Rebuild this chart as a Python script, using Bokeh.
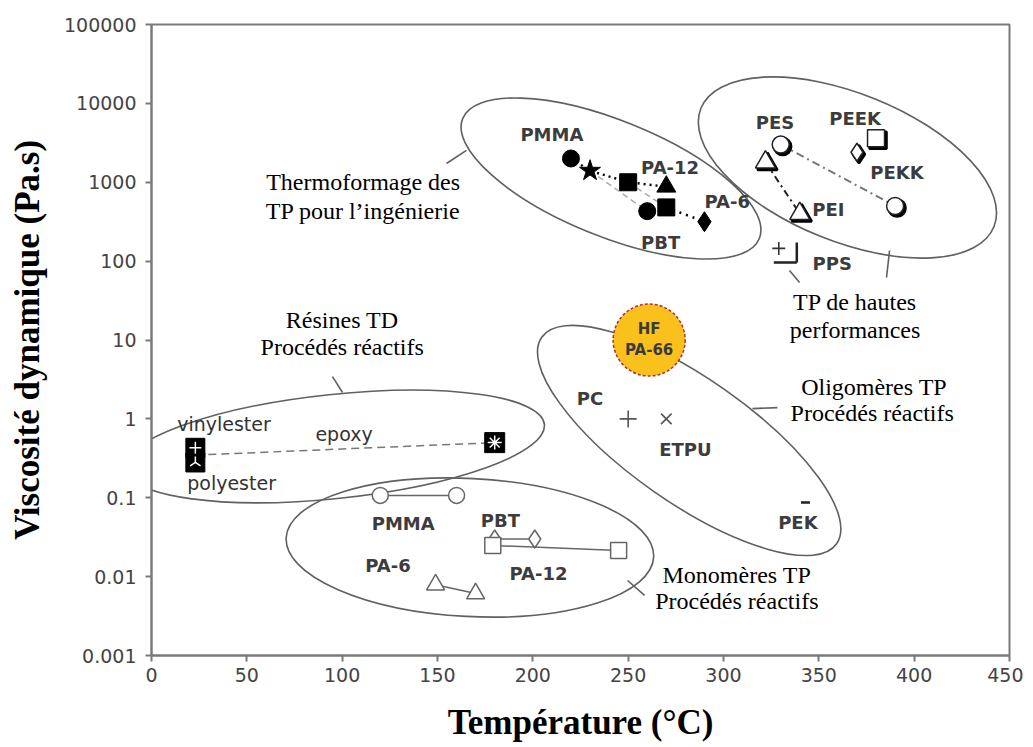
import math
from bokeh.plotting import figure
from bokeh.models import FixedTicker, Range1d
from bokeh.embed import file_html
from bokeh.resources import INLINE
from bokeh.core.properties import value

# ---------------- data ----------------
x_ticks = [0, 50, 100, 150, 200, 250, 300, 350, 400, 450]
y_ticks = [0.001, 0.01, 0.1, 1, 10, 100, 1000, 10000, 100000]
y_tick_labels = ["0.001", "0.01", "0.1", "1", "10", "100", "1000", "10000", "100000"]

# Thermoformage des TP pour l'ingénierie (filled markers)
tf_T = [220, 230, 250, 270, 260, 270, 290]
tf_V = [2000, 1400, 1000, 880, 430, 480, 316]
tf_markers = ["circle", "star", "square", "triangle", "circle", "square", "diamond"]

# TP de hautes performances (open markers)
hp_T = [330, 322, 340, 370, 380, 390]
hp_V = [3000, 1800, 400, 2400, 3600, 500]
hp_markers = ["circle", "triangle", "triangle", "diamond", "square", "circle"]
pps_T = [329]
pps_V = [145]

# Résines TD
vinylester_T, vinylester_V = [23], [0.43]
polyester_T, polyester_V = [23], [0.28]
epoxy_T, epoxy_V = [180], [0.5]

# Monomères TP
mono_pmma_T, mono_pmma_V = [120, 160], [0.107, 0.107]
mono_pbt_T, mono_pbt_V = [180, 201], [0.030, 0.030]
mono_pa12_T, mono_pa12_V = [179, 245], [0.0248, 0.0214]
mono_pa6_T, mono_pa6_V = [149, 170], [0.0079, 0.0061]

# Oligomères TP
pc_T, pc_V = [250], [1.0]
etpu_T, etpu_V = [270], [1.0]
pek_T, pek_V = [343], [0.087]

# HF PA-66
hf_T, hf_V = [261], [10]

# point labels (upper case)
lab_text = ["PMMA", "PA-12", "PA-6", "PBT", "PES", "PEEK", "PEKK", "PEI", "PPS",
            "PMMA", "PBT", "PA-12", "PA-6", "PC", "ETPU", "PEK"]
lab_T = [210, 272, 302, 267, 327, 369, 391, 355, 357,
         132, 183, 203, 124, 230, 280, 339]
lab_V = [4000, 1540, 570, 172, 5700, 6400, 1330, 450, 93,
         0.047, 0.0515, 0.011, 0.0138, 1.8, 0.41, 0.048]
# point labels (lower case)
low_text = ["vinylester", "epoxy", "polyester"]
low_T = [38, 101, 42]
low_V = [0.87, 0.65, 0.156]

# group annotations
ann_text = ["Thermoformage des", "TP pour l\u2019ing\u00e9nierie",
            "R\u00e9sines TD", "Proc\u00e9d\u00e9s r\u00e9actifs",
            "TP de hautes", "performances",
            "Oligom\u00e8res TP", "Proc\u00e9d\u00e9s r\u00e9actifs",
            "Monom\u00e8res TP", "Proc\u00e9d\u00e9s r\u00e9actifs"]
ann_T = [111, 111, 100, 100, 369, 369, 379, 378, 307, 307]
ann_V = [1022, 438, 17.7, 8.26, 30.0, 13.2, 2.57, 1.17, 0.0106, 0.00484]

# group ellipses: centre (T, V), screen width/height, angle (deg)
ell_T = [241, 365, 96, 167, 282]
ell_V = [1115, 1538, 0.447, 0.0234, 0.532]
ell_w = [320, 316, 422, 368, 360]
ell_h = [116, 148, 104, 138, 124]
ell_a = [-22, -22, 6, -3, -35]

# leader lines
lead_T0 = [154.7, 94.9, 334.6, 387.1, 315.2, 249.7]
lead_V0 = [1730, 3.44, 76, 136.5, 1.35, 0.00893]
lead_T1 = [165.2, 100.2, 339.9, 385.5, 328.3, 258.6]
lead_V1 = [2530, 2.16, 53.6, 62, 1.39, 0.00577]

# ---------------- helpers (screen-pixel offsets expressed in data space) ----------------
FW, FH = 858, 631
T_PER_PX = 450 / FW
DEC_PER_PX = 8 / FH


def shift(T, V, dx, dy):
    """shift points by dx px right and dy px down"""
    return [t + dx * T_PER_PX for t in T], [v * 10 ** (-dy * DEC_PER_PX) for v in V]


# ---------------- figure ----------------
p = figure(width=1023, height=735, frame_width=FW, frame_height=FH,
           y_axis_type="log", x_range=Range1d(0, 450), y_range=Range1d(0.001, 100000),
           output_backend="svg", toolbar_location=None,
           min_border_left=151, min_border_right=14, min_border_top=24, min_border_bottom=80)
p.grid.visible = False
p.outline_line_color = "#7a7a7a"
p.outline_line_width = 2
p.background_fill_color = "white"
p.border_fill_color = "white"

p.xaxis.ticker = FixedTicker(ticks=x_ticks)
p.yaxis.ticker = FixedTicker(ticks=y_ticks)
p.yaxis.major_label_overrides = {t: l for t, l in zip(y_ticks, y_tick_labels)}
for ax in (p.xaxis, p.yaxis):
    ax.axis_line_color = "#7a7a7a"
    ax.axis_line_width = 2
    ax.major_tick_line_color = "#7a7a7a"
    ax.major_tick_line_width = 2
    ax.major_tick_out = 6
    ax.major_tick_in = 0
    ax.minor_tick_line_color = None
    ax.major_label_text_font = "DejaVu Sans"
    ax.major_label_text_font_size = "19px"
    ax.major_label_text_color = "#444444"
    ax.axis_label_text_font = "Liberation Serif"
    ax.axis_label_text_font_style = "bold"
    ax.axis_label_text_font_size = "35px"
    ax.axis_label_text_color = "black"
p.xaxis.major_label_standoff = 6
p.yaxis.major_label_standoff = 9
p.xaxis.axis_label = "Temp\u00e9rature (\u00b0C)"
p.yaxis.axis_label = "Viscosit\u00e9 dynamique (Pa.s)"
p.xaxis.axis_label_standoff = 18
p.yaxis.axis_label_standoff = 14

# ellipses
p.ellipse(x=ell_T, y=ell_V, width=ell_w, height=ell_h, width_units="screen",
          height_units="screen", angle=[math.radians(a) for a in ell_a],
          fill_color=None, line_color="#606060", line_width=1.6)
p.segment(x0=lead_T0, y0=lead_V0, x1=lead_T1, y1=lead_V1, line_color="#606060", line_width=1.6)

# thermoformage lines
idx = [0, 1, 2, 3]
p.line([tf_T[i] for i in idx], [tf_V[i] for i in idx], line_color="black", line_width=2.5, line_dash="2 4")
p.line([tf_T[1], tf_T[4]], [tf_V[1], tf_V[4]], line_color="#aaaaaa", line_width=1.5, line_dash="6 4")
p.line([tf_T[2], tf_T[5]], [tf_V[2], tf_V[5]], line_color="#aaaaaa", line_width=1.5, line_dash="6 4")
p.line([tf_T[5], tf_T[6]], [tf_V[5], tf_V[6]], line_color="black", line_width=2.5, line_dash="2 5")
tf_sizes = {"circle": 17, "star": 22, "square": 17, "triangle": 19, "diamond": 20}
for t, v, m in zip(tf_T, tf_V, tf_markers):
    p.scatter([t], [v], marker=m, size=tf_sizes[m], fill_color="black", line_color="black")

# hautes performances
p.line([hp_T[0], hp_T[5]], [hp_V[0], hp_V[5]], line_color="#777777", line_width=2, line_dash="8 4 2 4")
p.line([hp_T[1], hp_T[2]], [hp_V[1], hp_V[2]], line_color="#222222", line_width=2, line_dash="7 4 2 4")
hp_sizes = {"circle": 17, "triangle": 20, "diamond": 18, "square": 17}
for t, v, m in zip(hp_T, hp_V, hp_markers):
    st, sv = shift([t], [v], 2, 2)
    p.scatter(st, sv, marker=m, size=hp_sizes[m], fill_color="black", line_color="black", line_width=2.5)
    p.scatter([t], [v], marker=m, size=hp_sizes[m], fill_color="white", line_color="#222222", line_width=1.5)
# PPS: cross with a square shadow corner
c_T, c_V = shift(pps_T, pps_V, 18, 14)
h_T, h_V = shift(pps_T, pps_V, -5, 14)
v_T, v_V = shift(pps_T, pps_V, 18, -6)
p.segment(x0=h_T, y0=h_V, x1=c_T, y1=c_V, line_color="#222222", line_width=2.5)
p.segment(x0=v_T, y0=v_V, x1=c_T, y1=c_V, line_color="#222222", line_width=2.5)
p.scatter(pps_T, pps_V, marker="cross", size=13, line_color="#333333", line_width=1.6)

# résines TD
p.line([vinylester_T[0], epoxy_T[0]], [math.sqrt(vinylester_V[0] * polyester_V[0]), epoxy_V[0]],
       line_color="#777777", line_width=1.5, line_dash="8 5")
p.scatter(vinylester_T, vinylester_V, marker="square", size=19, fill_color="black", line_color="black")
p.scatter(polyester_T, polyester_V, marker="square", size=19, fill_color="black", line_color="black")
p.scatter(vinylester_T, vinylester_V, marker="cross", size=12, line_color="white", line_width=1.5)
p.scatter(polyester_T, polyester_V, marker="y", size=12, angle=math.pi, line_color="white", line_width=1.5)
p.scatter(epoxy_T, epoxy_V, marker="square", size=20, fill_color="black", line_color="black")
p.scatter(epoxy_T, epoxy_V, marker="asterisk", size=14, line_color="white", line_width=1.5)

# monomères
for (T, V, m, s) in [(mono_pmma_T, mono_pmma_V, "circle", 16),
                     (mono_pbt_T, mono_pbt_V, "diamond", 18),
                     (mono_pa12_T, mono_pa12_V, "square", 16),
                     (mono_pa6_T, mono_pa6_V, "triangle", 18)]:
    p.line(T, V, line_color="#666666", line_width=1.5)
    p.scatter(T, V, marker=m, size=s, fill_color="white", line_color="#666666", line_width=1.5)

# oligomères
p.scatter(pc_T, pc_V, marker="cross", size=17, line_color="#555555", line_width=1.6)
p.scatter(etpu_T, etpu_V, marker="x", size=15, line_color="#555555", line_width=1.6)
p.scatter(pek_T, pek_V, marker="dash", size=9, line_color="#222222", line_width=2.5)

# HF PA-66
p.scatter(hf_T, hf_V, marker="circle", size=72, fill_color="#FAC01C", line_color="#B0302A",
          line_width=1.5, line_dash="3 2")
p.text(hf_T, hf_V, text=["HF"], y_offset=-11, text_font=value("DejaVu Sans"), text_font_style="bold",
       text_font_size="15px", text_align="center", text_baseline="middle", text_color="#3a3a3a")
p.text(hf_T, hf_V, text=["PA-66"], y_offset=10, text_font=value("DejaVu Sans"), text_font_style="bold",
       text_font_size="15px", text_align="center", text_baseline="middle", text_color="#3a3a3a")

# labels
p.text(lab_T, lab_V, text=lab_text, text_font=value("DejaVu Sans"), text_font_style="bold",
       text_font_size="18px", text_align="center", text_baseline="middle", text_color="#3c3c3c")
p.text(low_T, low_V, text=low_text, text_font=value("DejaVu Sans"),
       text_font_size="19px", text_align="center", text_baseline="middle", text_color="#333333")
p.text(ann_T, ann_V, text=ann_text, text_font=value("Liberation Serif"), text_font_size="24px",
       text_align="center", text_baseline="middle", text_color="black")

open("out.html", "w").write(file_html(p, INLINE))
